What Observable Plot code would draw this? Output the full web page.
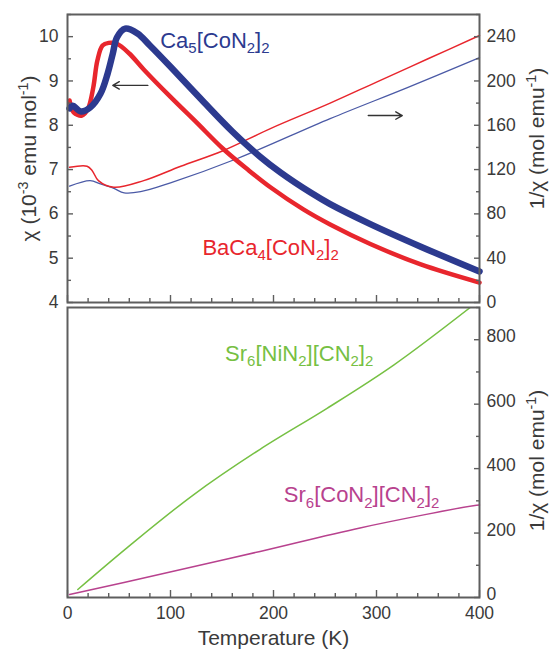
<!DOCTYPE html>
<html><head><meta charset="utf-8">
<script src="https://cdn.jsdelivr.net/npm/d3@7"></script>
<script src="https://cdn.jsdelivr.net/npm/@observablehq/plot@0.6"></script>
<style>
body{margin:0;background:#fff}
#c{width:550px;height:657px}
#c svg{display:block}
</style>
</head><body><div id="c"></div><script>
// ---- Top panel: chi (left axis, 10^-3 emu/mol) ----
const T_chi_Ca5 = [2,5,13,22,32,39,44,48,56,68,80,100,130,160,187,207,236,255,294,343,400];
const chi_Ca5   = [8.38,8.44,8.31,8.40,8.71,9.17,9.62,9.98,10.18,10.07,9.80,9.32,8.58,7.86,7.29,6.93,6.48,6.22,5.77,5.26,4.70];
const T_chi_Ba  = [2,6,14,20,25,29,34,40,48,60,74,100,125,151,175,197,229,255,294,343,400];
const chi_Ba    = [8.56,8.29,8.22,8.38,8.85,9.46,9.80,9.86,9.84,9.62,9.26,8.64,8.07,7.47,7.00,6.60,6.10,5.76,5.32,4.86,4.45];
// ---- Top panel: 1/chi (right axis, mol/emu) ----
const T_inv_Ba  = [2,19,24,30,45,74,110,151,197,255,300,350,400];
const inv_Ba    = [122,123,119,110,104,110,123,137,157,180,199,220,241];
const T_inv_Ca5 = [2,22,32,45,55,71,100,165,255,330,400];
const inv_Ca5   = [105,110,107,103,99,100,108,130,166,194,221];
// ---- Bottom panel: 1/chi (mol/emu) ----
const T_Ni = [10,58,122,187,252,317,391];
const inv_Ni = [25,155,318,460,587,722,900];
const T_Co = [2,90,187,284,394,400];
const inv_Co = [9,72,143,216,285,287];

// axis ticks
const xMajor = [0,100,200,300,400];
const xMinor = d3.range(20,400,20).filter(v => v % 100 !== 0);
const chiMajor = [4,5,6,7,8,9,10];
const chiMinor = [4.5,5.5,6.5,7.5,8.5,9.5,10.5];
const invTopMajor = [0,40,80,120,160,200,240];
const invTopMinor = [20,60,100,140,180,220,260];
const invBotMajor = [0,200,400,600,800];
const invBotMinor = [100,300,500,700,900];

// labels / annotations (data coordinates)
const labelsTop = [
  {text:"Ca_{5}[CoN_{2}]_{2}", t:90, chi:9.91, color:"blue"},
  {text:"BaCa_{4}[CoN_{2}]_{2}", t:131, chi:5.24, color:"red"}
];
const labelsBot = [
  {text:"Sr_{6}[NiN_{2}][CN_{2}]_{2}", t:153, inv:757, color:"green"},
  {text:"Sr_{6}[CoN_{2}][CN_{2}]_{2}", t:210, inv:317, color:"purple"}
];
const arrows = [
  {t1:78, t2:44, chi:8.90},
  {t1:292, t2:325, chi:8.22}
];

const COLORS = {blue:"#2c3a8f", blueThin:"#4b5aa6", red:"#e8262d", green:"#76c043", purple:"#b8428e"};
const FONT = "'Liberation Sans', Arial, Helvetica, sans-serif";
const FRAME = "#5e5e5e", INK = "#3a3a3a";
const W = 550, ML = 67, MR = 71;
const CURVE = "catmull-rom";
const toChi = r => 4 + r / 40;
const rows = (T, V) => T.map((t, i) => ({t, v: V[i]}));

function ticksY(vals, anchor, size) {
  return Plot.axisY(vals, {anchor, tickSize: size, dx: anchor === "left" ? size : -size, fill: "none", label: null, stroke: FRAME, strokeWidth: 1.4});
}
function ticksX(vals, size) {
  return Plot.axisX(vals, {anchor: "bottom", tickSize: size, dy: -size, fill: "none", label: null, stroke: FRAME, strokeWidth: 1.4});
}
const style = {fontFamily: FONT, fontSize: "17.5px", color: INK, background: "white", overflow: "visible"};

const topPlot = Plot.plot({
  width: W, height: 305, marginLeft: ML, marginRight: MR, marginTop: 14, marginBottom: 3,
  style,
  x: {domain: [0, 400]},
  y: {domain: [4, 10.5]},
  marks: [
    Plot.line(rows(T_inv_Ca5, inv_Ca5), {x: "t", y: d => toChi(d.v), stroke: COLORS.blueThin, strokeWidth: 1.3, curve: CURVE}),
    Plot.line(rows(T_inv_Ba, inv_Ba), {x: "t", y: d => toChi(d.v), stroke: COLORS.red, strokeWidth: 1.5, curve: CURVE}),
    Plot.line(rows(T_chi_Ba, chi_Ba), {x: "t", y: "v", stroke: COLORS.red, strokeWidth: 4.5, curve: CURVE}),
    Plot.line(rows(T_chi_Ca5, chi_Ca5), {x: "t", y: "v", stroke: COLORS.blue, strokeWidth: 6.5, curve: CURVE}),
    Plot.arrow(arrows, {x1: "t1", x2: "t2", y1: "chi", y2: "chi", stroke: "#333", strokeWidth: 1.4, headLength: 8}),
    Plot.text(labelsTop, {x: "t", y: "chi", text: "text", fill: d => COLORS[d.color], textAnchor: "start", lineAnchor: "middle", fontSize: 22}),
    ticksX(xMajor, 7), ticksX(xMinor, 4),
    ticksY(chiMajor, "left", 6), ticksY(chiMinor, "left", 4),
    ticksY(invTopMajor.map(toChi), "right", 6), ticksY(invTopMinor.map(toChi), "right", 4),
    Plot.axisY(chiMajor, {anchor: "left", tickSize: 0, tickPadding: 9, label: null, tickFormat: d => d, fill: INK}),
    Plot.axisY(invTopMajor.map(toChi), {anchor: "right", tickSize: 0, tickPadding: 7, label: null, tickFormat: d => Math.round((d - 4) * 40), fill: INK}),
    Plot.text(["χ (10^{-3} emu mol^{-1})"], {text: d => d, frameAnchor: "left", dx: -38, rotate: -90, fontSize: 21, fill: INK, textAnchor: "middle", lineAnchor: "middle"}),
    Plot.text(["1/χ (mol emu^{-1})"], {text: d => d, frameAnchor: "right", dx: 58, dy: -20, rotate: -90, fontSize: 21, fill: INK, textAnchor: "middle", lineAnchor: "middle"}),
    Plot.frame({stroke: FRAME, strokeWidth: 2})
  ]
});

const bottomPlot = Plot.plot({
  width: W, height: 352, marginLeft: ML, marginRight: MR, marginTop: 2, marginBottom: 60,
  style,
  x: {domain: [0, 400]},
  y: {domain: [0, 900]},
  marks: [
    Plot.line(rows(T_Co, inv_Co), {x: "t", y: "v", stroke: COLORS.purple, strokeWidth: 1.5, curve: CURVE}),
    Plot.line(rows(T_Ni, inv_Ni), {x: "t", y: "v", stroke: COLORS.green, strokeWidth: 1.5, curve: CURVE, clip: true}),
    Plot.text(labelsBot, {x: "t", y: "inv", text: "text", fill: d => COLORS[d.color], textAnchor: "start", lineAnchor: "middle", fontSize: 22}),
    ticksX(xMajor, 7), ticksX(xMinor, 4),
    ticksY(invBotMajor, "right", 6), ticksY(invBotMinor, "right", 4),
    Plot.axisX(xMajor, {anchor: "bottom", tickSize: 0, tickPadding: 9, label: null, fill: INK}),
    Plot.axisY(invBotMajor, {anchor: "right", tickSize: 0, tickPadding: 7, label: null, fill: INK, dy: -3}),
    Plot.text(["1/χ (mol emu^{-1})"], {text: d => d, frameAnchor: "right", dx: 58, dy: 8, rotate: -90, fontSize: 21, fill: INK, textAnchor: "middle", lineAnchor: "middle"}),
    Plot.text(["Temperature (K)"], {text: d => d, frameAnchor: "bottom", dy: 41, fontSize: 21, fill: INK, textAnchor: "middle", lineAnchor: "middle"}),
    Plot.frame({stroke: FRAME, strokeWidth: 2})
  ]
});

const c = document.getElementById("c");
c.appendChild(topPlot);
c.appendChild(bottomPlot);

// render _{..} and ^{..} as real sub/superscript tspans
function richify(root) {
  const NS = "http://www.w3.org/2000/svg";
  root.querySelectorAll("text").forEach(el => {
    const s = el.textContent;
    if (!/[_^]\{/.test(s)) return;
    const fs = parseFloat(getComputedStyle(el).fontSize) || 16;
    const parts = [];
    const re = /([_^])\{([^}]*)\}/g;
    let last = 0, m;
    while ((m = re.exec(s))) {
      if (m.index > last) parts.push({t: s.slice(last, m.index), mode: ""});
      parts.push({t: m[2], mode: m[1]});
      last = re.lastIndex;
    }
    if (last < s.length) parts.push({t: s.slice(last), mode: ""});
    el.textContent = "";
    let shift = 0;
    for (const p of parts) {
      const ts = document.createElementNS(NS, "tspan");
      const target = p.mode === "_" ? 0.26 * fs : p.mode === "^" ? -0.4 * fs : 0;
      if (target !== shift) ts.setAttribute("dy", (target - shift).toFixed(2));
      shift = target;
      if (p.mode) ts.setAttribute("font-size", (0.68 * fs).toFixed(2));
      ts.textContent = p.t;
      el.appendChild(ts);
    }
  });
}
richify(c);
</script></body></html>
